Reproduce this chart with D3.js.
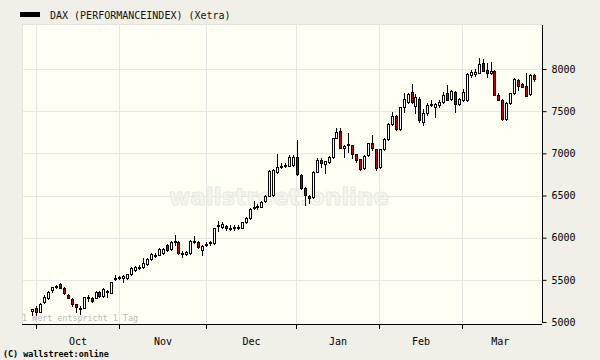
<!DOCTYPE html>
<html><head><meta charset="utf-8">
<script src="https://cdn.jsdelivr.net/npm/d3@7"></script>
<style>
html,body{margin:0;padding:0;background:#f0efe8;}
svg{display:block;}
text{font-family:"DejaVu Sans Mono",monospace;}
</style></head>
<body><svg id="chart" width="600" height="360"></svg>
<script>
const seriesName = "DAX (PERFORMANCEINDEX) (Xetra)";
const monthLabels = ["Oct","Nov","Dec","Jan","Feb","Mar"];
const monthStartIdx = [1,22,44,67,88,109];
const yTicks = [5000,5500,6000,6500,7000,7500,8000];
const openV = [5127,5162,5122,5241,5281,5379,5410,5447,5407,5320,
5273,5213,5170,5170,5290,5281,5288,5352,5308,5350,
5347,5510,5520,5518,5518,5566,5617,5640,5649,5684,
5747,5785,5795,5815,5913,5862,5950,5945,5820,5812,
5815,5955,5945,5854,5918,5935,5933,6135,6130,6138,
6112,6115,6120,6118,6182,6230,6355,6362,6367,6435,
6498,6506,6775,6845,6852,6853,6862,6960,6743,6585,
6498,6486,6782,6921,6870,6894,6960,7178,7265,7060,
7095,7099,6989,6933,6823,6980,7119,7052,6838,7052,
7167,7345,7446,7289,7553,7612,7724,7567,7644,7375,
7475,7585,7553,7570,7612,7719,7641,7731,7585,7633,
7633,7929,7941,7956,8075,7988,7949,7980,7692,7633,
7404,7593,7712,7870,7822,7799,7700,7929];
const highV = [5160,5190,5220,5315,5370,5419,5440,5460,5419,5330,
5288,5218,5193,5300,5320,5300,5365,5365,5400,5380,
5480,5557,5545,5560,5575,5650,5660,5670,5755,5755,
5815,5815,5875,5875,5920,5955,6032,5955,5840,5840,
5970,6023,5955,5915,5945,5965,6120,6198,6180,6150,
6145,6145,6150,6190,6245,6350,6435,6395,6430,6505,
6800,6810,6989,6880,6885,6975,6975,7158,6760,6600,
6506,6790,6941,6941,6915,6965,7180,7304,7297,7100,
7238,7099,6990,6935,6980,7126,7217,7052,7055,7178,
7356,7494,7450,7553,7712,7712,7822,7700,7672,7522,
7593,7632,7593,7632,7731,7810,7751,7735,7653,7759,
7949,7988,7996,8127,8115,8068,8087,7988,7712,7640,
7612,7719,7890,7878,7830,7956,7935,7941];
const lowV = [5083,5083,5115,5230,5275,5359,5400,5400,5328,5280,
5193,5115,5091,5165,5249,5234,5280,5300,5300,5300,
5340,5498,5505,5480,5510,5560,5610,5625,5640,5675,
5740,5770,5790,5805,5845,5855,5913,5810,5774,5795,
5805,5940,5880,5795,5905,5915,5925,6079,6120,6095,
6085,6090,6100,6110,6175,6220,6340,6345,6360,6425,
6490,6500,6763,6830,6835,6845,6855,6745,6580,6388,
6408,6467,6775,6842,6763,6882,6948,7178,7060,6960,
7019,6941,6901,6802,6815,6972,7040,6802,6830,7045,
7158,7336,7277,7277,7494,7593,7593,7475,7375,7336,
7455,7561,7435,7553,7600,7633,7633,7494,7573,7624,
7624,7909,7917,7956,7975,7909,7941,7692,7633,7395,
7395,7581,7704,7751,7783,7680,7692,7862];
const closeV = [5151,5115,5213,5300,5352,5411,5424,5407,5347,5288,
5213,5181,5151,5293,5300,5245,5356,5308,5391,5362,
5471,5526,5528,5549,5566,5644,5652,5650,5700,5747,
5806,5795,5866,5866,5854,5945,5965,5815,5815,5825,
5961,5965,5886,5905,5928,5945,6111,6145,6162,6111,
6120,6122,6128,6182,6237,6340,6365,6372,6419,6494,
6791,6802,6842,6855,6862,6960,6960,6752,6593,6506,
6467,6782,6921,6882,6909,6960,7178,7257,7067,7091,
7105,6989,6921,6814,6968,7119,7060,6823,7052,7167,
7345,7446,7289,7546,7644,7700,7605,7668,7392,7475,
7573,7570,7585,7612,7692,7633,7743,7585,7641,7731,
7941,7968,7968,8060,7980,7949,7980,7692,7633,7404,
7593,7712,7878,7799,7790,7680,7929,7878];

const data = openV.map((o,i)=>({i, o, h:highV[i], l:lowV[i], c:closeV[i]}));
const n = data.length;

const svg = d3.select("#chart");
const plot = {left:22, top:24, right:542.5, bottom:324};

const x = d3.scaleLinear().domain([0, n-1]).range([32.3, 32.3 + 3.95*(n-1)]);
const y = d3.scaleLinear().domain([5000, 8000]).range([322, 69]);

// plot background
svg.append("rect").attr("x",plot.left).attr("y",plot.top)
  .attr("width",plot.right-plot.left).attr("height",plot.bottom-plot.top)
  .attr("fill","#fffff3").attr("stroke","#e4e4dc").attr("stroke-width",1)
  .attr("shape-rendering","crispEdges");

// gridlines
svg.append("g").selectAll("line").data(yTicks.filter(v=>v>5000)).join("line")
  .attr("x1",plot.left).attr("x2",plot.right)
  .attr("y1",d=>Math.round(y(d))+0.5).attr("y2",d=>Math.round(y(d))+0.5)
  .attr("stroke","#e6e6e2").attr("stroke-width",1);
const tickX = monthStartIdx.map(i=>Math.round(x(i)-0.6)+0.5);
svg.append("g").selectAll("line").data(tickX).join("line")
  .attr("x1",d=>d).attr("x2",d=>d).attr("y1",plot.top).attr("y2",plot.bottom)
  .attr("stroke","#e6e6e2").attr("stroke-width",1);

// watermark
svg.append("text").attr("x",279).attr("y",205).attr("text-anchor","middle")
  .style("font-family","'DejaVu Sans',sans-serif").style("font-size","23px").style("font-weight","bold")
  .attr("fill","#f6f6ee").attr("stroke","#e9e9e3").attr("stroke-width",1)
  .text("wallstreet:online");

// note text
svg.append("text").attr("x",22).attr("y",321).attr("fill","#b9b9b9")
  .style("font-size","8.4px").text("1 Wert entspricht 1 Tag");

// candles
const g = svg.append("g");
g.selectAll("line.wick").data(data).join("line").attr("class","wick")
  .attr("x1",d=>Math.round(x(d.i))+0.5).attr("x2",d=>Math.round(x(d.i))+0.5)
  .attr("y1",d=>Math.round(y(d.h))).attr("y2",d=>Math.round(y(d.l))+1)
  .attr("stroke","#000").attr("stroke-width",1);
g.selectAll("rect.body").data(data).join("rect").attr("class","body")
  .attr("x",d=>Math.round(x(d.i))-1+0.5)
  .attr("y",d=>Math.round(y(Math.max(d.o,d.c)))+0.5)
  .attr("width",2)
  .attr("height",d=>Math.max(1, Math.round(y(Math.min(d.o,d.c))) - Math.round(y(Math.max(d.o,d.c)))))
  .attr("fill",d=>d.c>=d.o ? "#ffffff" : "#cc0000")
  .attr("stroke","#000").attr("stroke-width",1);

// axes
const axisG = svg.append("g").attr("shape-rendering","crispEdges");
axisG.append("line").attr("x1",plot.left).attr("x2",542).attr("y1",324.5).attr("y2",324.5)
  .attr("stroke","#000").attr("stroke-width",1);
axisG.append("line").attr("x1",542.5).attr("x2",542.5).attr("y1",25).attr("y2",323)
  .attr("stroke","#000").attr("stroke-width",1);

const yAxis = d3.axisRight(y).tickValues(yTicks).tickSize(4).tickPadding(5).tickFormat(d3.format("d"));
const ya = svg.append("g").attr("transform","translate(542.5,0)").call(yAxis);
ya.select(".domain").remove();
ya.selectAll("line").attr("stroke","#000");
ya.selectAll("text").style("font-family","'DejaVu Sans Mono',monospace").style("font-size","10px").attr("fill","#000");

// month ticks and labels
svg.append("g").selectAll("line").data(tickX).join("line")
  .attr("x1",d=>d).attr("x2",d=>d).attr("y1",324).attr("y2",329)
  .attr("stroke","#000").attr("stroke-width",1);
const lastEdge = x(n-1) + 3.95;
const labelX = tickX.map((t,k)=> (t + (k<tickX.length-1 ? tickX[k+1] : lastEdge))/2);
svg.append("g").selectAll("text").data(monthLabels).join("text")
  .attr("x",(d,k)=>labelX[k]).attr("y",345).attr("text-anchor","middle")
  .style("font-size","10px").attr("fill","#000").text(d=>d);

// legend
svg.append("rect").attr("x",20).attr("y",12).attr("width",20).attr("height",5).attr("fill","#000");
svg.append("text").attr("x",50).attr("y",18.5).style("font-size","10px").attr("fill","#111").text(seriesName);

// copyright
svg.append("text").attr("x",3).attr("y",357).style("font-size","8.4px").style("font-weight","bold")
  .attr("fill","#000").text("(C) wallstreet:online");
</script></body></html>
